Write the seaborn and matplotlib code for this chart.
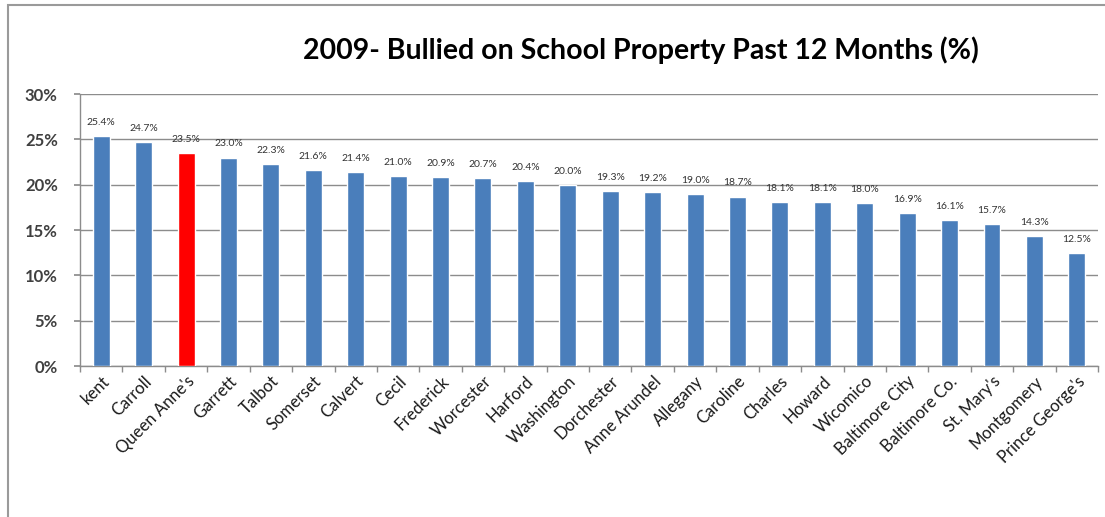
import matplotlib
matplotlib.use("Agg")
import matplotlib.pyplot as plt
import seaborn as sns
from matplotlib.patches import Rectangle
from matplotlib.ticker import FuncFormatter, MultipleLocator, FixedLocator

counties = ["kent", "Carroll", "Queen Anne's", "Garrett", "Talbot", "Somerset",
            "Calvert", "Cecil", "Frederick", "Worcester", "Harford", "Washington",
            "Dorchester", "Anne Arundel", "Allegany", "Caroline", "Charles",
            "Howard", "Wicomico", "Baltimore City", "Baltimore Co.", "St. Mary's",
            "Montgomery", "Prince George's"]
bullied_pct = [25.4, 24.7, 23.5, 23.0, 22.3, 21.6, 21.4, 21.0, 20.9, 20.7, 20.4,
               20.0, 19.3, 19.2, 19.0, 18.7, 18.1, 18.1, 18.0, 16.9, 16.1, 15.7,
               14.3, 12.5]
highlight = "Queen Anne's"
title = "2009- Bullied on School Property Past 12 Months (%)"

blue = "#4a7ebb"
red = "#ff0000"
palette = {c: (red if c == highlight else blue) for c in counties}

sns.set_theme(style="white")
plt.rcParams["font.family"] = ["Lato", "DejaVu Sans"]

fig = plt.figure(figsize=(11.05, 5.17), dpi=100)
ax = fig.add_axes([0.0724, 0.292, 0.9213, 0.526])

sns.barplot(x=counties, y=bullied_pct, hue=counties, palette=palette,
            legend=False, width=0.4, ax=ax, saturation=1, zorder=3)

ax.set_ylim(0, 30)
ax.set_xlim(-0.5, len(counties) - 0.5)
ax.yaxis.set_major_locator(MultipleLocator(5))
ax.yaxis.set_major_formatter(FuncFormatter(lambda v, p: f"{v:.0f}%"))
ax.grid(axis="y", color="#8c8c8c", linewidth=1.0, zorder=0)
ax.set_axisbelow(True)

for side in ("top", "right"):
    ax.spines[side].set_visible(False)
ax.spines["left"].set_color("#8c8c8c")
ax.spines["bottom"].set_color("#8c8c8c")
ax.spines["left"].set_linewidth(1.0)
ax.spines["bottom"].set_linewidth(1.0)

ax.tick_params(axis="y", length=4, color="#8c8c8c", labelsize=12,
               labelcolor="#404040", pad=12, left=True)
for t in ax.get_yticklabels():
    t.set_fontweight("bold")

# category boundary ticks below the axis
ax.xaxis.set_minor_locator(FixedLocator([i - 0.5 for i in range(len(counties) + 1)]))
ax.tick_params(axis="x", which="minor", length=4, color="#8c8c8c", bottom=True)
ax.tick_params(axis="x", which="major", length=0, pad=5)
ax.set_xticks(range(len(counties)))
ax.set_xticklabels(counties, rotation=45, ha="right", rotation_mode="anchor",
                   fontsize=12, color="#1a1a1a")
ax.set_xlabel("")
ax.set_ylabel("")

for i, v in enumerate(bullied_pct):
    ax.text(i, v + 1.0, f"{v:.1f}%", ha="center", va="bottom",
            fontsize=7.5, color="#333333", zorder=4)

fig.text(0.58, 0.903, title, ha="center", va="center", fontsize=20.5,
         fontweight="bold", color="#000000")

# outer chart frame (top and left edges)
fig.add_artist(Rectangle((8 / 1105, -0.1), 1.2, (1 - 5 / 517) + 0.1,
                         transform=fig.transFigure, fill=False,
                         edgecolor="#9a9a9a", linewidth=1.5))

fig.savefig("out.png", dpi=100)
